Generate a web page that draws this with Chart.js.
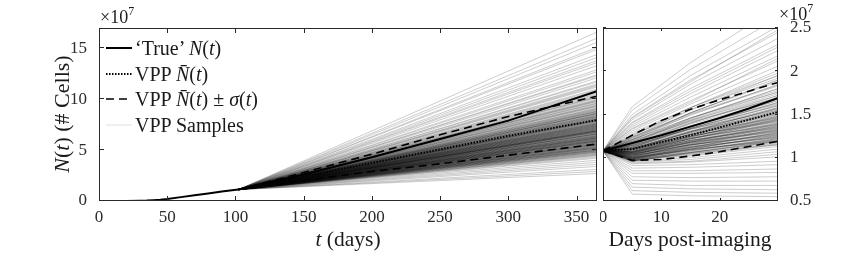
<!DOCTYPE html>
<html>
<head>
<meta charset="utf-8">
<script src="https://cdn.jsdelivr.net/npm/chart.js@4.4.1/dist/chart.umd.min.js"></script>
<style>
  html, body { margin: 0; padding: 0; background: #fff; }
  #wrap { position: relative; width: 852px; height: 261px; overflow: hidden; font-family: "Liberation Serif", serif; color: #1a1a1a; }
  canvas { position: absolute; top: 0; }
  .txt { position: absolute; white-space: nowrap; line-height: 1; }
  .leg { position: absolute; left: 106px; height: 20px; font-size: 20px; line-height: 20px; white-space: nowrap; }
  .leg svg { position: absolute; left: 0; top: 7px; }
  .leg span { position: absolute; left: 29px; top: 0; }
  sup { font-size: 12px; vertical-align: 8px; line-height: 0; }
</style>
</head>
<body>
<div id="wrap">
  <canvas id="fullChart" width="600" height="261" style="left:0"></canvas>
  <canvas id="postChart" width="252" height="261" style="left:600px"></canvas>

  <div class="txt" style="left:100px; top:8px; font-size:18px;">×10<sup>7</sup></div>
  <div class="txt" style="left:779px; top:5px; font-size:18px;">×10<sup>7</sup></div>

  <div class="txt" style="left:62px; top:114px; font-size:22px; transform:translate(-50%,-50%) rotate(-90deg);"><i>N</i>(<i>t</i>) (# Cells)</div>
  <div class="txt" style="left:348px; top:229px; font-size:21.5px; transform:translateX(-50%);"><i>t</i> (days)</div>
  <div class="txt" style="left:690px; top:229px; font-size:21.5px; transform:translateX(-50%);">Days post-imaging</div>

  <div class="leg" style="top:38px">
    <svg width="26" height="6"><line x1="0" y1="3" x2="26" y2="3" stroke="#000" stroke-width="2"/></svg>
    <span>‘True’ <i>N</i>(<i>t</i>)</span>
  </div>
  <div class="leg" style="top:64px">
    <svg width="26" height="6"><line x1="0" y1="3" x2="26" y2="3" stroke="#000" stroke-width="2" stroke-dasharray="1.5 1.5"/></svg>
    <span>VPP <i>N̄</i>(<i>t</i>)</span>
  </div>
  <div class="leg" style="top:89px">
    <svg width="26" height="6"><line x1="0" y1="3" x2="26" y2="3" stroke="#000" stroke-width="1.6" stroke-dasharray="8 5"/></svg>
    <span>VPP <i>N̄</i>(<i>t</i>) ± <i>σ</i>(<i>t</i>)</span>
  </div>
  <div class="leg" style="top:115px">
    <svg width="26" height="6"><line x1="0" y1="3" x2="26" y2="3" stroke="rgba(0,0,0,0.12)" stroke-width="1"/></svg>
    <span>VPP Samples</span>
  </div>
</div>

<script>
// all cell counts are in units of 1e7

// left panel: full time course
const trueDays = [0, 20, 30, 35, 40, 45, 50, 60, 70, 80, 90, 102, 150, 200, 250, 300, 365];
const trueCells = [0, 0.005, 0.02, 0.04, 0.08, 0.13, 0.2, 0.38, 0.56, 0.74, 0.93, 1.12, 2.6, 4.3, 6.1, 7.9, 10.8];

const predDays = [102, 150, 200, 250, 300, 365];
const meanCells = [1.12, 2.4, 3.75, 5.07, 6.4, 7.95];
const upperCells = [1.12, 2.8, 4.6, 6.5, 8.3, 10.3];
const lowerCells = [1.12, 2.0, 2.9, 3.65, 4.5, 5.6];

// VPP sample value at day 365 (each sample runs from the start of the prediction)
const sampleEnd365 = [
  7.1, 5.4, 9.8, 6.6, 12.4, 4.2, 8.3, 7.7, 10.6, 5.9,
  16.6, 6.2, 8.9, 3.4, 7.4, 11.2, 6.9, 9.3, 5.1, 13.8,
  8.0, 6.4, 10.1, 4.7, 7.9, 15.1, 5.7, 8.6, 9.6, 2.7,
  6.8, 11.8, 7.3, 5.3, 8.4, 14.4, 6.1, 9.1, 4.5, 7.6,
  10.4, 3.1, 8.2, 6.7, 12.9, 5.6, 7.2, 9.9, 16.0, 6.3,
  8.7, 4.9, 11.0, 7.0, 5.8, 13.3, 8.1, 3.8, 9.4, 6.5,
  10.8, 7.5, 5.2, 14.9, 8.5, 6.0, 12.1, 4.4, 9.0, 7.8,
  11.5, 5.5, 3.6, 8.8, 6.9, 10.2, 15.6, 7.4, 5.0, 9.7,
  6.6, 12.7, 4.0, 8.3, 7.1, 13.6, 5.9, 9.2, 2.9, 11.3,
  7.9, 6.2, 10.5, 4.8, 8.6, 14.1, 6.8, 9.5, 5.4, 7.6,
  6.3, 7.2, 8.4, 5.6, 9.1, 7.8, 6.9, 10.3, 8.0, 5.9,
  7.5, 9.6, 6.4, 8.8, 7.0, 5.3, 10.7, 8.2, 6.7, 9.4,
  7.3, 4.6, 8.6, 6.1, 11.4, 7.7, 9.0, 5.8, 8.1, 6.5,
  10.0, 7.4, 5.0, 8.9, 6.8, 9.8, 7.1, 4.9, 8.5, 6.0,
  11.7, 7.9, 5.5, 9.3, 6.6, 8.3, 10.9, 7.6, 5.7, 9.9,
  6.2, 8.0, 12.3, 7.2, 4.3, 8.7, 6.9, 10.2, 7.5, 5.2,
  5.1, 6.0, 7.3, 4.8, 6.6, 5.5, 7.9, 6.3, 5.8, 7.0,
  4.6, 6.8, 5.3, 7.6, 6.1, 5.0, 8.4, 6.4, 5.6, 7.2,
  4.9, 6.9, 5.9, 8.1, 6.2, 5.4, 7.4, 6.7, 5.2, 7.8,
  4.7, 6.5, 5.7, 8.6, 6.0, 5.1, 7.1, 6.3, 5.5, 7.5,
  4.5, 6.6, 5.8, 8.2, 6.1, 5.3, 7.7, 6.4, 5.0, 7.0,
  4.8, 6.9, 5.6, 8.0, 6.2, 5.2, 7.3, 6.8, 5.9, 8.8
];

const fullXTicks = [0, 50, 100, 150, 200, 250, 300, 350];
const fullYTicks = [0, 5, 10, 15];

// right panel: days post-imaging
const postDays = [0, 5, 10, 15, 20, 25, 30];
const postTrue = [1.08, 1.17, 1.26, 1.36, 1.46, 1.57, 1.69];
const postMean = [1.08, 1.10, 1.18, 1.26, 1.35, 1.44, 1.53];
const postUpper = [1.08, 1.26, 1.43, 1.56, 1.67, 1.77, 1.87];
const postLower = [1.08, 0.97, 0.98, 1.02, 1.07, 1.13, 1.19];

const postSampleDays = [0, 5, 15, 30];
const postSampleStart = 1.08;
const postSampleDay5 = [
  1.59, 1.55, 1.50, 1.47, 1.44, 1.41, 1.38, 1.36, 1.34, 1.31, 1.29, 1.33, 1.40, 1.46,
  1.25, 1.26, 1.23, 1.24, 1.21, 1.23, 1.20, 1.21, 1.18, 1.20, 1.17, 1.19, 1.16, 1.17,
  1.15, 1.16, 1.14, 1.15, 1.12, 1.14, 1.11, 1.13, 1.11, 1.10, 1.11, 1.08, 1.10, 1.07,
  1.09, 1.06, 1.07, 1.05, 1.06, 1.04, 1.05, 1.03,
  1.00, 0.99, 0.98, 0.97, 0.96, 0.95, 0.94, 0.93, 1.01, 0.97,
  0.91, 0.88, 0.85, 0.82, 0.78, 0.74, 0.70, 0.66, 0.62, 0.58,
  1.27, 1.22, 1.24, 1.17, 1.21, 1.15, 1.19, 1.12, 1.16, 1.13,
  1.10, 1.14, 1.08, 1.12, 1.06, 1.10, 1.05, 1.09, 1.03, 1.07,
  1.02, 1.06, 1.01, 1.04, 1.00, 1.03, 0.99, 1.02, 0.98, 1.00,
  1.12, 1.14, 1.09, 1.11, 1.07, 1.10, 1.06, 1.08, 1.04, 1.07,
  1.03, 1.05, 1.01, 1.04, 1.00, 1.02, 0.99, 1.01, 0.98, 1.00,
  0.97, 0.99, 0.96, 0.98, 0.96, 0.97, 1.05, 1.03, 1.01, 0.99,
  1.09, 1.06, 1.04, 0.98, 0.97, 1.10, 1.07, 1.02, 0.99, 0.96
];
const postSampleDay15 = [
  2.10, 2.02, 1.95, 1.90, 1.85, 1.80, 1.74, 1.70, 1.66, 1.62, 1.58, 1.64, 1.77, 1.88,
  1.58, 1.55, 1.56, 1.52, 1.52, 1.49, 1.50, 1.46, 1.46, 1.44, 1.43, 1.43, 1.40, 1.41,
  1.39, 1.36, 1.37, 1.34, 1.33, 1.33, 1.30, 1.31, 1.29, 1.27, 1.27, 1.25, 1.25, 1.22,
  1.23, 1.20, 1.20, 1.18, 1.18, 1.15, 1.15, 1.12,
  1.08, 1.06, 1.04, 1.02, 1.00, 0.98, 0.96, 0.95, 1.09, 1.03,
  0.92, 0.89, 0.85, 0.82, 0.77, 0.73, 0.68, 0.64, 0.60, 0.56,
  1.58, 1.52, 1.51, 1.45, 1.46, 1.40, 1.42, 1.36, 1.37, 1.34,
  1.31, 1.33, 1.28, 1.30, 1.25, 1.27, 1.23, 1.25, 1.20, 1.22,
  1.18, 1.20, 1.16, 1.17, 1.13, 1.15, 1.11, 1.13, 1.09, 1.10,
  1.34, 1.34, 1.30, 1.29, 1.26, 1.27, 1.24, 1.24, 1.21, 1.22,
  1.19, 1.19, 1.16, 1.17, 1.14, 1.14, 1.12, 1.12, 1.10, 1.11,
  1.08, 1.09, 1.06, 1.06, 1.05, 1.05, 1.22, 1.18, 1.15, 1.12,
  1.27, 1.22, 1.18, 1.10, 1.07, 1.30, 1.24, 1.15, 1.10, 1.06
];
const postSampleDay30 = [
  2.75, 2.62, 2.52, 2.45, 2.38, 2.31, 2.24, 2.18, 2.12, 2.06, 2.01, 2.15, 2.28, 2.48,
  1.98, 1.95, 1.92, 1.90, 1.88, 1.85, 1.83, 1.80, 1.78, 1.76, 1.74, 1.72, 1.70, 1.68,
  1.66, 1.64, 1.62, 1.60, 1.58, 1.56, 1.54, 1.52, 1.50, 1.48, 1.46, 1.44, 1.42, 1.40,
  1.38, 1.36, 1.34, 1.32, 1.30, 1.28, 1.26, 1.24,
  1.22, 1.19, 1.16, 1.13, 1.10, 1.07, 1.04, 1.01, 1.20, 1.15,
  0.96, 0.92, 0.87, 0.83, 0.78, 0.73, 0.68, 0.63, 0.59, 0.55,
  1.95, 1.90, 1.84, 1.80, 1.76, 1.72, 1.69, 1.66, 1.63, 1.60,
  1.57, 1.55, 1.53, 1.51, 1.49, 1.47, 1.45, 1.43, 1.41, 1.39,
  1.37, 1.35, 1.33, 1.31, 1.29, 1.27, 1.25, 1.23, 1.21, 1.19,
  1.64, 1.61, 1.58, 1.55, 1.52, 1.50, 1.48, 1.46, 1.44, 1.42,
  1.40, 1.38, 1.36, 1.35, 1.33, 1.31, 1.30, 1.28, 1.26, 1.25,
  1.23, 1.22, 1.20, 1.18, 1.17, 1.15, 1.45, 1.39, 1.34, 1.29,
  1.53, 1.43, 1.37, 1.27, 1.21, 1.57, 1.47, 1.32, 1.24, 1.19
];

const postXTicks = [0, 10, 20];
const postYTicks = [0.5, 1, 1.5, 2, 2.5];

const AXIS_COLOR = "#2b2b2b";
const SAMPLE_COLOR = "rgba(0,0,0,0.2)";
const TICK_FONT = { family: "Liberation Serif", size: 17 };

function toPoints(xs, ys) {
  return xs.map((x, i) => ({ x, y: ys[i] }));
}

function keyLines(trueX, trueY, days, mean, upper, lower) {
  return [
    { data: toPoints(trueX, trueY), borderColor: "#000", borderWidth: 2 },
    { data: toPoints(days, mean), borderColor: "#000", borderWidth: 2, borderDash: [1.5, 1.5] },
    { data: toPoints(days, upper), borderColor: "#000", borderWidth: 1.6, borderDash: [8, 5] },
    { data: toPoints(days, lower), borderColor: "#000", borderWidth: 1.6, borderDash: [8, 5] },
  ];
}

function sampleLine(points) {
  return { data: points, borderColor: SAMPLE_COLOR, borderWidth: 1 };
}

// box around the plot + inward tick marks on all four sides
const framePlugin = {
  id: "frame",
  afterDatasetsDraw(chart, args, opts) {
    const { ctx, chartArea: a, scales } = chart;
    const len = opts.tickLength;
    ctx.save();
    ctx.strokeStyle = AXIS_COLOR;
    ctx.lineWidth = 1;
    ctx.beginPath();
    scales.x.ticks.forEach((t) => {
      const px = Math.round(scales.x.getPixelForValue(t.value)) + 0.5;
      ctx.moveTo(px, a.bottom);
      ctx.lineTo(px, a.bottom - len);
      ctx.moveTo(px, a.top);
      ctx.lineTo(px, a.top + len);
    });
    scales.y.ticks.forEach((t) => {
      const py = Math.round(scales.y.getPixelForValue(t.value)) - 0.5;
      ctx.moveTo(a.left, py);
      ctx.lineTo(a.left + len, py);
      ctx.moveTo(a.right, py);
      ctx.lineTo(a.right - len, py);
    });
    ctx.stroke();
    ctx.strokeRect(a.left + 0.5, a.top + 0.5, a.right - a.left - 1, a.bottom - a.top - 1);
    ctx.restore();
  },
};

function makeChart(canvas, datasets, cfg) {
  return new Chart(canvas, {
    type: "line",
    data: { datasets },
    options: {
      responsive: false,
      animation: false,
      events: [],
      layout: { padding: cfg.padding },
      elements: { point: { radius: 0 }, line: { tension: 0 } },
      plugins: { legend: { display: false }, tooltip: { enabled: false }, frame: { tickLength: cfg.tickLength } },
      scales: {
        x: {
          type: "linear",
          min: cfg.xMin,
          max: cfg.xMax,
          grid: { display: false },
          border: { display: false },
          ticks: { font: TICK_FONT, color: AXIS_COLOR, padding: -2, maxRotation: 0, callback: (v) => String(v) },
          afterBuildTicks: (s) => { s.ticks = cfg.xTicks.map((v) => ({ value: v })); },
          afterFit: (s) => { s.height = 60; },
        },
        y: {
          type: "linear",
          position: cfg.yPos,
          min: cfg.yMin,
          max: cfg.yMax,
          grid: { display: false },
          border: { display: false },
          ticks: { font: TICK_FONT, color: AXIS_COLOR, padding: 4, callback: (v) => String(v) },
          afterBuildTicks: (s) => { s.ticks = cfg.yTicks.map((v) => ({ value: v })); },
          afterFit: (s) => { s.width = cfg.yWidth; },
        },
      },
    },
    plugins: [framePlugin],
  });
}

const fullDatasets = keyLines(trueDays, trueCells, predDays, meanCells, upperCells, lowerCells);
sampleEnd365.forEach((v) => {
  fullDatasets.push(sampleLine([
    { x: predDays[0], y: meanCells[0] },
    { x: predDays[predDays.length - 1], y: v },
  ]));
});

makeChart(document.getElementById("fullChart"), fullDatasets, {
  padding: { top: 28, right: 3, left: 0, bottom: 0 },
  xMin: 0, xMax: 365, xTicks: fullXTicks,
  yMin: 0, yMax: 17, yTicks: fullYTicks,
  yPos: "left", yWidth: 99, tickLength: 5,
});

const postDatasets = keyLines(postDays, postTrue, postDays, postMean, postUpper, postLower);
postSampleDay30.forEach((v, i) => {
  postDatasets.push(sampleLine(toPoints(postSampleDays, [postSampleStart, postSampleDay5[i], postSampleDay15[i], v])));
});

makeChart(document.getElementById("postChart"), postDatasets, {
  padding: { top: 28, right: 0, left: 3, bottom: 0 },
  xMin: 0, xMax: 30, xTicks: postXTicks,
  yMin: 0.5, yMax: 2.5, yTicks: postYTicks,
  yPos: "right", yWidth: 74, tickLength: 3,
});
</script>
</body>
</html>
